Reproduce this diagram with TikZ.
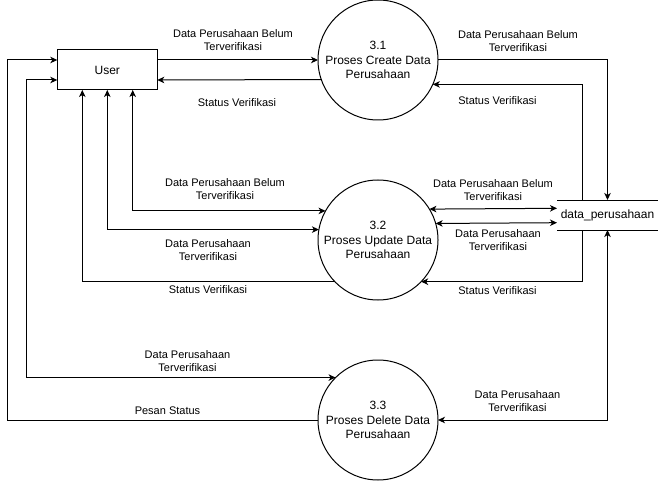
\documentclass[tikz,border=0pt]{standalone}
\usepackage{fontspec}
\setmainfont{Liberation Sans}
\usetikzlibrary{arrows.meta}
\begin{document}
\begin{tikzpicture}[x=1pt,y=-1pt,
  line width=1pt,
  tip/.style={-{Stealth[length=7pt,width=6.5pt,inset=2pt]}},
  tips/.style={{Stealth[length=7pt,width=6.5pt,inset=2pt]}-{Stealth[length=7pt,width=6.5pt,inset=2pt]}},
  proc/.style={circle,draw,minimum size=120pt,inner sep=0pt,outer sep=0pt,align=center,font=\fontsize{12}{14.5}\selectfont},
  ent/.style={rectangle,draw,minimum width=100pt,minimum height=40pt,inner sep=0pt,outer sep=0pt,font=\fontsize{12}{14.5}\selectfont},
  store/.style={rectangle,minimum width=101pt,minimum height=30pt,inner sep=0pt,outer sep=0pt,font=\fontsize{12}{14.5}\selectfont},
  lbl/.style={align=center,inner sep=0pt,font=\fontsize{11}{13.6}\selectfont}]
\useasboundingbox (0,0) rectangle (658,481);

\node[ent] (u) at (107.3,70) {User};
\node[proc] (c1) at (378,60) {3.1\\Proses Create Data\\Perusahaan};
\node[proc] (c2) at (378,240) {3.2\\Proses Update Data\\Perusahaan};
\node[proc] (c3) at (378,420) {3.3\\Proses Delete Data\\Perusahaan};
\node[store] (s) at (607.5,215) {data\_perusahaan};
\draw (s.north west) -- (s.north east);
\draw (s.south west) -- (s.south east);

\coordinate (k1) at (26.7,80);
\coordinate (l1) at (7.3,60);

% User <-> 3.1
\draw[tip] ([yshift=10pt]u.east) -- (c1.west);
\draw[tip] (c1.199.47) -- ([yshift=-10pt]u.east);
% 3.1 <-> store
\draw[tip] (c1.east) -| (s.north);
\draw[tip] ([xshift=-25pt]s.north) |- (c1.336.1);
% User <-> 3.2
\draw[tips] ([xshift=25.4pt]u.south) |- (c2.151.1);
\draw[tips] (u.south) |- (c2.170.4);
\draw[tip] (c2.224) -| ([xshift=-25pt]u.south);
% 3.2 <-> store
\draw[tips] (c2.31.9) -- ([yshift=6.7pt]s.west);
\draw[tips] (c2.16.75) -- ([yshift=-7.7pt]s.west);
\draw[tip] ([xshift=-25pt]s.south) |- (c2.316);
% User <-> 3.3
\draw[tips] (c3.135.2) -| (k1) -- ([yshift=-10pt]u.west);
\draw[tip] (c3.west) -| (l1) -- ([yshift=10pt]u.west);
% store <-> 3.3
\draw[tips] (s.south) |- (c3.east);

% labels
\node[lbl] (t1) at (233,40) {Data Perusahaan Belum\\Terverifikasi};
\node[lbl] (t2) at (237,103) {Status Verifikasi};
\node[lbl] (t3) at (225,189) {Data Perusahaan Belum\\Terverifikasi};
\node[lbl] (t4) at (208,250) {Data Perusahaan\\Terverifikasi};
\node[lbl] (t5) at (208,290) {Status Verifikasi};
\node[lbl] (t6) at (187.5,361) {Data Perusahaan\\Terverifikasi};
\node[lbl] (t7) at (167.5,411) {Pesan Status};
\node[lbl] (r1) at (518,41) {Data Perusahaan Belum\\Terverifikasi};
\node[lbl] (r2) at (497.5,101) {Status Verifikasi};
\node[lbl] (r3) at (493,190) {Data Perusahaan Belum\\Terverifikasi};
\node[lbl] (r4) at (498,240) {Data Perusahaan\\Terverifikasi};
\node[lbl] (r5) at (497.5,291) {Status Verifikasi};
\node[lbl] (r6) at (517.5,401) {Data Perusahaan\\Terverifikasi};
\end{tikzpicture}
\end{document}
